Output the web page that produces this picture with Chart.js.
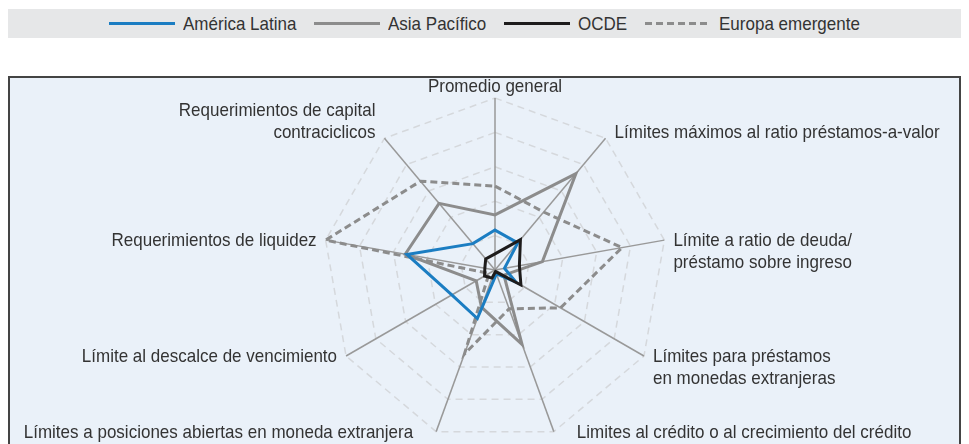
<!DOCTYPE html>
<html lang="es">
<head>
<meta charset="utf-8">
<title>Herramientas macroprudenciales por región</title>
<script src="https://cdn.jsdelivr.net/npm/chart.js@4.4.1/dist/chart.umd.min.js"></script>
<style>
  html, body { margin: 0; padding: 0; background: #fff; overflow: hidden; }
  body { width: 969px; height: 444px; position: relative;
         font-family: "Liberation Sans", Arial, sans-serif; color: #333; }
  .legend { position: absolute; left: 8px; top: 9px; width: 953px; height: 29px; background: #e6e7e8;
            display: flex; justify-content: center; align-items: center; font-size: 19px; }
  .legend .item { display: flex; align-items: center; margin: 0 9px; }
  .legend .swatch { width: 66px; height: 3px; margin-right: 8px; }
  .legend .txt { display: inline-block; transform: scaleX(0.895); transform-origin: left center; white-space: nowrap; }
  .frame { position: absolute; left: 8px; top: 76px; width: 953px; height: 420px; box-sizing: border-box;
           border: 2px solid #444; background: #eaf1f9; }
  #wrap { position: absolute; left: 8px; top: 76px; width: 953px; height: 388px; }
</style>
</head>
<body>
<div class="legend" id="legend"></div>
<div class="frame"></div>
<div id="wrap"><canvas id="radar"></canvas></div>

<script>
// ── DATA (rings 0–5) ──────────────────────────────────────────────
const CATEGORIAS = [
  ['Promedio general'],
  ['Límites máximos al ratio préstamos-a-valor'],
  ['Límite a ratio de deuda/', 'préstamo sobre ingreso'],
  ['Límites para préstamos', 'en monedas extranjeras'],
  ['Limites al crédito o al crecimiento del crédito'],
  ['Límites a posiciones abiertas en moneda extranjera'],
  ['Límite al descalce de vencimiento'],
  ['Requerimientos de liquidez'],
  ['Requerimientos de capital', 'contraciclicos'],
];

const AMERICA_LATINA   = [1.16, 1.03, 0.28, 0.7, 0.12, 1.5, 1.45, 2.6, 1.0];
const ASIA_PACIFICO    = [1.6, 3.66, 1.4, 0.3, 2.3, 1.15, 0.63, 2.65, 2.53];
const OCDE             = [0.47, 1.15, 0.72, 0.87, 0.05, 0.25, 0.35, 0.3, 0.42];
const EUROPA_EMERGENTE = [2.44, 2.2, 3.75, 2.2, 1.2, 2.6, 0.2, 5.0, 3.37];

const ESCALA_MIN = 0;
const ESCALA_MAX = 5;
const ESCALA_PASO = 1;

// ── SERIES ────────────────────────────────────────────────────────
const AZUL = '#1b7dc2';
const GRIS = '#8c8c8c';
const NEGRO = '#1e1c1c';
const CONDENSADO = 0.895;   // horizontal squeeze to mimic the condensed face

const SERIES = [
  { label: 'América Latina',   data: AMERICA_LATINA,   color: AZUL,  dash: [],     order: 1 },
  { label: 'Asia Pacífico',    data: ASIA_PACIFICO,    color: GRIS,  dash: [],     order: 2 },
  { label: 'OCDE',             data: OCDE,             color: NEGRO, dash: [],     order: 0 },
  { label: 'Europa emergente', data: EUROPA_EMERGENTE, color: GRIS,  dash: [7, 4], order: 3 },
];

// HTML legend in the grey band
const legendEl = document.getElementById('legend');
legendEl.innerHTML = SERIES.map(s => {
  const bg = s.dash.length
    ? `repeating-linear-gradient(90deg, ${s.color} 0 ${s.dash[0]}px, transparent ${s.dash[0]}px ${s.dash[0] + s.dash[1]}px)`
    : s.color;
  return `<div class="item"><div class="swatch" style="background:${bg}"></div><span class="txt">${s.label}</span></div>`;
}).join('');
legendEl.querySelectorAll('.txt').forEach(el => {
  el.style.marginRight = (-el.offsetWidth * (1 - CONDENSADO)) + 'px';
});

// point labels drawn next to the end of each spoke
const etiquetas = {
  id: 'etiquetas',
  afterDraw(chart) {
    const r = chart.scales.r;
    const ctx = chart.ctx;
    const lh = 22;
    ctx.save();
    ctx.font = '19px "Liberation Sans", Arial, sans-serif';
    ctx.fillStyle = '#333';
    ctx.textBaseline = 'middle';
    CATEGORIAS.forEach((lines, i) => {
      const p = r.getPointPosition(i, r.drawingArea);
      const a = p.angle + Math.PI / 2;          // 0 at top, clockwise
      const s = Math.sin(a), c = Math.cos(a);
      const gap = Math.abs(c) > 0.9 ? 23 : 9;
      let x = p.x, y0, align;
      if (Math.abs(s) < 0.05) {
        align = 'center';
        y0 = p.y - 11 - (lines.length - 1) * lh;
      } else {
        align = s > 0 ? 'left' : 'right';
        x += s > 0 ? gap : -gap;
        y0 = c > 0.5 ? p.y - 5 - (lines.length - 1) * lh : p.y + 1;
      }
      ctx.textAlign = align;
      lines.forEach((t, k) => {
        ctx.save();
        ctx.translate(x, y0 + k * lh);
        ctx.scale(CONDENSADO, 1);
        ctx.fillText(t, 0, 0);
        ctx.restore();
      });
    });
    ctx.restore();
  }
};

new Chart(document.getElementById('radar'), {
  type: 'radar',
  data: {
    labels: CATEGORIAS,
    datasets: SERIES.map(s => ({
      label: s.label,
      data: s.data,
      borderColor: s.color,
      borderDash: s.dash,
      borderWidth: 3,
      borderJoinStyle: 'miter',
      fill: false,
      pointRadius: 0,
      pointHoverRadius: 0,
      tension: 0,
      order: s.order,
    }))
  },
  options: {
    responsive: true,
    maintainAspectRatio: false,
    animation: false,
    layout: { padding: { left: 22, right: 0, top: 22, bottom: 22 } },
    plugins: { legend: { display: false }, tooltip: { enabled: false } },
    scales: {
      r: {
        min: ESCALA_MIN,
        max: ESCALA_MAX,
        ticks: { display: false, stepSize: ESCALA_PASO },
        pointLabels: { display: false },
        grid: { color: '#d5d8dc', lineWidth: 1.5 },
        border: { dash: [7, 5] },
        angleLines: { color: '#999', lineWidth: 1.5 },
      }
    }
  },
  plugins: [etiquetas]
});
</script>
</body>
</html>
